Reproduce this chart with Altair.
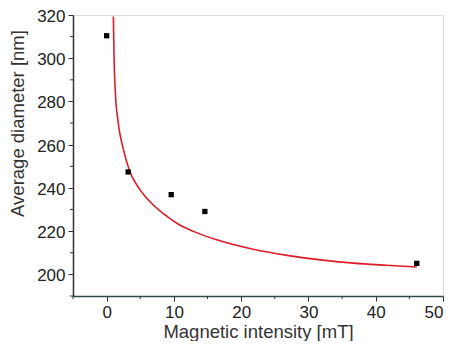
import altair as alt
import pandas as pd

# measured data points
pt_x = [0.0, 3.2, 9.6, 14.6, 46.1]
pt_y = [310.4, 247.4, 236.9, 229.1, 205.1]

# fitted curve
fit_x = [1.0, 1.1, 1.29, 1.69, 2.44, 3.43, 4.67, 6.45, 8.64, 10.61, 12.88, 16.37, 21.8, 26.8, 31.8, 36.7, 41.6, 46.1]
fit_y = [319.3, 300.8, 284.6, 270.8, 258.5, 247.7, 240.5, 233.6, 227.6, 223.3, 219.9, 216.0, 211.6, 208.8, 206.7, 205.2, 204.2, 203.4]

x_major = [0, 10, 20, 30, 40, 50]
x_minor = [-5, 5, 15, 25, 35, 45]
y_major = [200, 220, 240, 260, 280, 300, 320]
y_minor = [190, 210, 230, 250, 270, 290, 310]

pts = pd.DataFrame({"x": pt_x, "y": pt_y})
fit = pd.DataFrame({"x": fit_x, "y": fit_y})
xmin_df = pd.DataFrame({"v": x_minor})
ymin_df = pd.DataFrame({"v": y_minor})

FONT = "Liberation Sans"
W, H = 370, 281
AX = "#333333"

x_scale = alt.Scale(domain=[-5, 50], nice=False, zero=False)
y_scale = alt.Scale(domain=[190, 320], nice=False, zero=False)

x_axis = alt.Axis(
    title="Magnetic intensity [mT]",
    values=x_major,
    tickSize=5,
    grid=False,
    domainColor="#2f4a4a",
    tickColor=AX,
    labelColor="#222222",
    titleColor="#333333",
    labelFont=FONT,
    titleFont=FONT,
    labelFontSize=17,
    titleFontSize=18.5,
    titleFontWeight="normal",
    labelPadding=3,
    titlePadding=2,
    domainWidth=1.5,
    labelFlush=True,
)

y_axis = alt.Axis(
    title="Average diameter [nm]",
    values=y_major,
    tickSize=5,
    grid=False,
    domainColor=AX,
    tickColor=AX,
    labelColor="#222222",
    titleColor="#333333",
    labelFont=FONT,
    titleFont=FONT,
    labelFontSize=17,
    titleFontSize=18.5,
    titleFontWeight="normal",
    labelPadding=3,
    labelOffset=1.5,
    titleX=-46,
    titleY=108,
    domainWidth=1.5,
    labelFlush=False,
)

curve = alt.Chart(fit).mark_line(color="#dd1c2a", strokeWidth=1.6, interpolate="monotone").encode(
    x=alt.X("x:Q", scale=x_scale, axis=x_axis),
    y=alt.Y("y:Q", scale=y_scale, axis=y_axis),
)

points = alt.Chart(pts).mark_square(color="black", size=28, opacity=1).encode(
    x=alt.X("x:Q", scale=x_scale),
    y=alt.Y("y:Q", scale=y_scale),
)

x_minor_ticks = alt.Chart(xmin_df).mark_rule(color=AX, strokeWidth=1).encode(
    x=alt.X("v:Q", scale=x_scale),
    y=alt.value(H),
    y2=alt.value(H + 3),
)

y_minor_ticks = alt.Chart(ymin_df).mark_rule(color=AX, strokeWidth=1).encode(
    y=alt.Y("v:Q", scale=y_scale),
    x=alt.value(-3),
    x2=alt.value(0),
)

chart = (curve + points + x_minor_ticks + y_minor_ticks).properties(
    width=W,
    height=H,
    autosize=alt.AutoSizeParams(type="none"),
    padding={"left": 65, "top": 7, "right": 1, "bottom": 45},
).configure_view(stroke=None).configure(background="white")

chart.save("out.html", embed_options={"renderer": "svg", "actions": False})
